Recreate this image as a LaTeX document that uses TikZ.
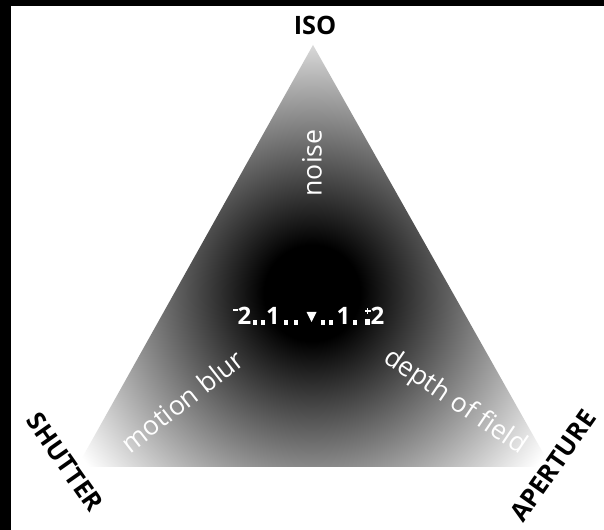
\documentclass[tikz,border=0pt]{standalone}
\usepackage{fontspec}
\setmainfont{Open Sans}
\usepackage{xcolor}
\pgfdeclareradialshading{exposure}{\pgfpoint{0bp}{0bp}}{color(0bp)=(black); color(8bp)=(black); color(47bp)=(white); color(50bp)=(white)}

\begin{document}
\begin{tikzpicture}[x=0.75pt,y=0.75pt,yscale=-1,xscale=1,
  corner/.style={font=\fontsize{19}{23}\bfseries\selectfont, text=black, inner sep=0.75pt},
  effect/.style={font=\fontsize{20}{24}\selectfont, text=white, inner sep=0.75pt},
  meter/.style={font=\fontsize{18}{22}\bfseries\selectfont, text=white, inner sep=0pt, anchor=base},
  meterdot/.style={fill=white}]
\useasboundingbox (0,0) rectangle (604,530);

%Shape: Rectangle [id:frame]
\fill [black] (0,0) rectangle (604,530);
\fill [white] (11,6) rectangle (604,530);
%Shape: Triangle [id:exposure]
\begin{scope}
\clip (77,467) -- (551,467) -- (313,45) -- cycle;
\node [inner sep=0pt, scale=4.5] (glow) at (312,293) {\pgfuseshading{exposure}};
\end{scope}

% Text Node
\draw (315,25) node [corner] (iso) {ISO};
% Text Node
\draw (65,462) node [corner, rotate=-55] (shutter) {SHUTTER};
% Text Node
\draw (553,466) node [corner, rotate=55] (aperture) {APERTURE};
% Text Node
\draw (312,163) node [effect, rotate=90] (noise) {noise};
% Text Node
\draw (182,401) node [effect, rotate=38] (blur) {motion blur};
% Text Node
\draw (455,402) node [effect, rotate=-34] (dof) {depth of field};

%Shape: Meter
\draw (244.5,325) node [meter] (mtwo) {2};
\draw (273,325) node [meter] (mone) {1};
\draw (343.5,325) node [meter] (pone) {1};
\draw (377.5,325) node [meter] (ptwo) {2};
\fill [meterdot] (232.5,309) rectangle (237.5,311.5);
\foreach \x in {255,263,286,296,323,331,355} {
  \fill [meterdot] (\x-2.25,320) rectangle (\x+2.25,325);
}
\fill [meterdot] (365.25,319) rectangle (369.75,325);
\fill [meterdot] (364.5,310.25) rectangle (370.5,312);
\fill [meterdot] (366.6,308) rectangle (368.4,314.5);
\fill [meterdot] (306.5,312) -- (316.5,312) -- (311.5,322) -- cycle;

\end{tikzpicture}
\end{document}
